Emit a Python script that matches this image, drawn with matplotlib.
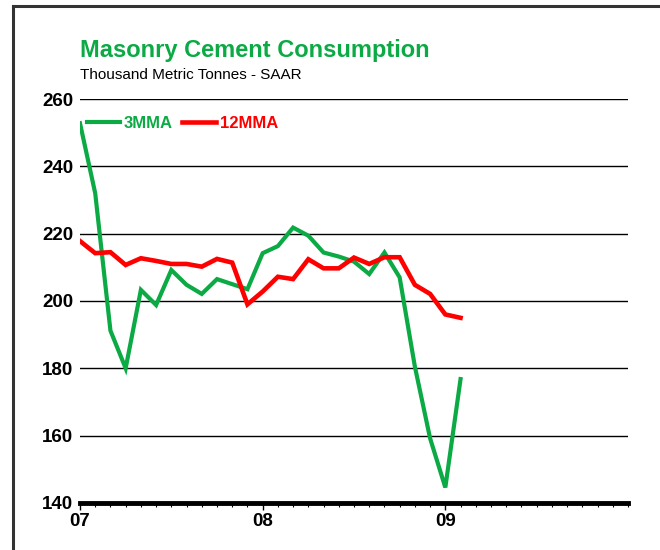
import matplotlib
matplotlib.use("Agg")
import matplotlib.pyplot as plt
from matplotlib import font_manager
from matplotlib.lines import Line2D

# monthly values, Jan 2007 .. Feb 2009
months = list(range(26))
mma3 = [252.8, 232.0, 191.2, 180.0, 203.3, 198.8, 209.2, 204.8, 202.1, 206.5,
        205.0, 203.5, 214.2, 216.3, 221.8, 219.4, 214.4, 213.2, 211.7, 208.0,
        214.4, 207.0, 180.5, 159.2, 144.6, 176.8]
mma12 = [217.8, 214.2, 214.5, 210.7, 212.7, 211.9, 211.0, 211.0, 210.2, 212.5,
         211.4, 199.0, 202.8, 207.2, 206.5, 212.4, 209.7, 209.7, 212.9, 211.0,
         213.0, 213.0, 204.8, 202.1, 196.0, 195.0]
year_pos = [0, 12, 24]
year_labels = ["07", "08", "09"]
y_ticks = [140, 160, 180, 200, 220, 240, 260]

names = {f.name for f in font_manager.fontManager.ttflist}
font = "Liberation Sans Narrow" if "Liberation Sans Narrow" in names else "Liberation Sans"
plt.rcParams["font.family"] = [font, "DejaVu Sans"]

GREEN = "#0BAA45"
RED = "#FF0000"

fig = plt.figure(figsize=(6.6, 5.5), dpi=100)
ax = fig.add_axes([0.1212, 0.0855, 0.8303, 0.7345])

ax.plot(months, mma3, color=GREEN, lw=3.0, label="3MMA", solid_joinstyle="miter")
ax.plot(months, mma12, color=RED, lw=3.3, label="12MMA", solid_joinstyle="miter")

ax.set_xlim(0, 36)
ax.set_ylim(140, 260)
ax.set_yticks(y_ticks)
ax.set_yticklabels([str(v) for v in y_ticks], fontsize=13.5, fontweight="bold")
ax.set_xticks(year_pos)
ax.set_xticklabels(year_labels, fontsize=13.5, fontweight="bold")
ax.set_xticks(range(37), minor=True)
ax.tick_params(axis="y", length=0, pad=5)
ax.tick_params(axis="x", which="major", length=5, width=1, direction="out", pad=2)
ax.tick_params(axis="x", which="minor", length=3, width=0.8, direction="out")

for v in y_ticks[1:]:
    ax.axhline(v, color="black", lw=1.0, zorder=0)
for s in ["top", "right", "left"]:
    ax.spines[s].set_visible(False)
ax.spines["bottom"].set_linewidth(3.5)

leg = ax.legend(loc="upper left", bbox_to_anchor=(0.012, 0.958), ncol=2, frameon=False,
                borderaxespad=0, borderpad=0, handlelength=2.0, handletextpad=0.25,
                columnspacing=0.55, prop={"weight": "bold", "size": 12})
for txt, c in zip(leg.get_texts(), [GREEN, RED]):
    txt.set_color(c)

fig.text(0.1212, 0.897, "Masonry Cement Consumption", color=GREEN, fontsize=17,
         fontweight="bold", va="baseline")
fig.text(0.1212, 0.857, "Thousand Metric Tonnes - SAAR", color="black", fontsize=11,
         va="baseline")

# page frame running off right and bottom edges
fig.add_artist(Line2D([0.0197, 1.0], [0.989, 0.989], color="#333333", lw=2.2,
                      transform=fig.transFigure))
fig.add_artist(Line2D([0.0197, 0.0197], [0.0, 0.989], color="#333333", lw=2.2,
                      transform=fig.transFigure))

fig.savefig("out.png", dpi=100)
